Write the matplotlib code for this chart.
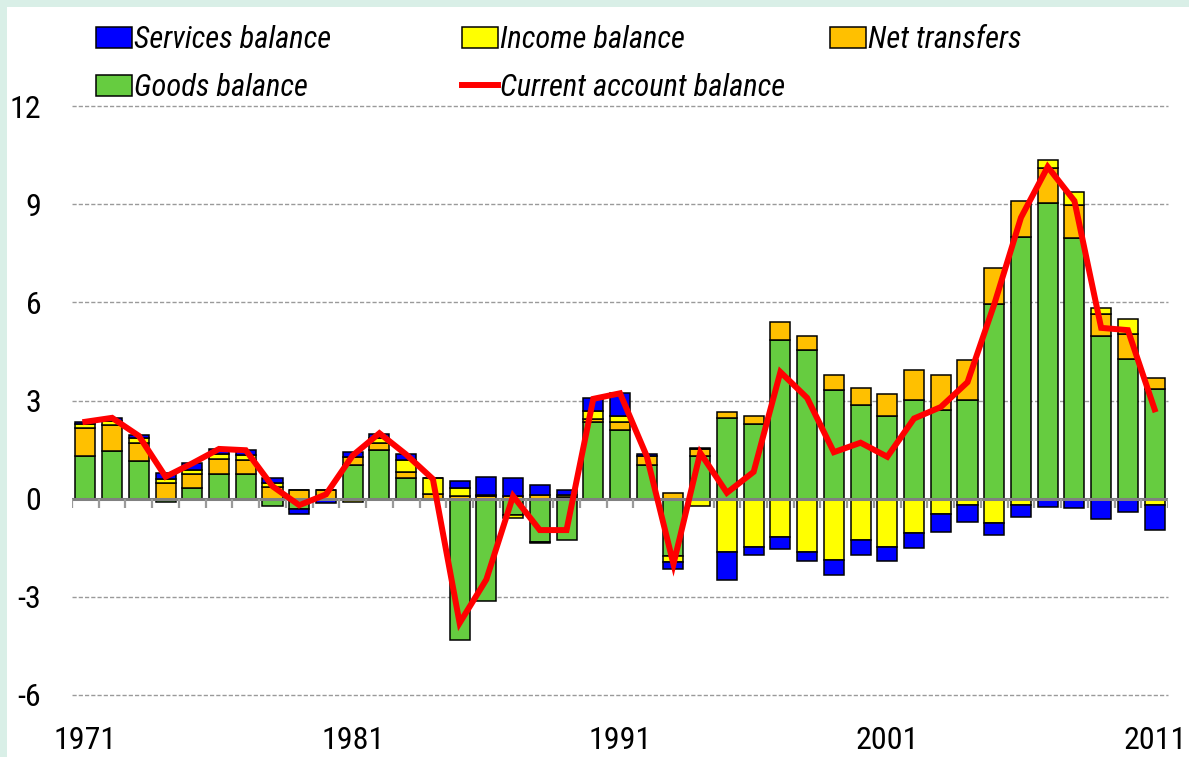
import numpy as np
import matplotlib

matplotlib.use("Agg")
import matplotlib.pyplot as plt
from matplotlib import font_manager
from matplotlib.patches import Patch, Rectangle
from matplotlib.lines import Line2D

# --- data (% of GDP) ---
years = list(range(1971, 2012))
goods = [1.30, 1.45, 1.15, -0.10, 0.33, 0.74, 0.74, -0.21, -0.31, -0.02,
         1.02, 1.48, 0.64, -0.05, -4.31, -3.13, -0.51, -1.33, -1.25, 2.34,
         2.09, 1.02, -1.76, 1.30, 2.45, 2.27, 4.85, 4.54, 3.31, 2.85,
         2.52, 3.03, 2.70, 3.03, 5.94, 8.00, 9.03, 7.98, 4.97, 4.26, 3.34]
transfers = [0.87, 0.80, 0.56, 0.48, 0.43, 0.48, 0.44, 0.35, 0.25, 0.25,
             0.26, 0.21, 0.17, 0.15, 0.08, 0.08, 0.07, 0.10, 0.05, 0.08,
             0.26, 0.28, 0.18, 0.22, 0.20, 0.27, 0.55, 0.43, 0.47, 0.54,
             0.67, 0.90, 1.08, 1.20, 1.12, 1.10, 1.09, 1.00, 0.68, 0.76, 0.35]
income = [0.10, 0.13, 0.13, 0.11, 0.13, 0.15, 0.15, 0.13, 0.00, 0.00,
          -0.10, 0.17, 0.37, 0.49, 0.25, 0.02, -0.07, -0.03, 0.05, 0.26,
          0.19, -0.05, -0.18, -0.21, -1.64, -1.48, -1.17, -1.64, -1.86, -1.25,
          -1.48, -1.06, -0.46, -0.20, -0.74, -0.20, 0.22, 0.39, 0.17, 0.48, -0.20]
services = [0.08, 0.07, 0.12, 0.18, 0.19, 0.16, 0.17, 0.16, -0.17, -0.10,
            0.14, 0.13, 0.20, 0.00, 0.21, 0.56, 0.57, 0.31, 0.16, 0.40,
            0.70, 0.05, -0.21, 0.04, -0.85, -0.25, -0.36, -0.27, -0.48, -0.48,
            -0.43, -0.46, -0.56, -0.51, -0.38, -0.36, -0.25, -0.28, -0.61, -0.40, -0.77]
current_account = [2.35, 2.47, 1.92, 0.67, 1.08, 1.52, 1.48, 0.38, -0.20, 0.13,
                   1.32, 2.00, 1.35, 0.60, -3.80, -2.47, 0.08, -0.96, -0.96, 3.05,
                   3.22, 1.30, -2.00, 1.40, 0.18, 0.82, 3.87, 3.08, 1.42, 1.71,
                   1.28, 2.45, 2.80, 3.56, 5.94, 8.59, 10.14, 9.10, 5.22, 5.15, 2.73]

y_ticks = [12, 9, 6, 3, 0, -3, -6]
x_labels = [1971, 1981, 1991, 2001, 2011]


def pick_font(names):
    for name in names:
        try:
            font_manager.findfont(name, fallback_to_default=False)
            return name
        except ValueError:
            continue
    return "DejaVu Sans"


FONT = pick_font(["Liberation Sans Narrow", "Roboto Condensed", "Liberation Sans"])
plt.rcParams["font.family"] = [FONT, "DejaVu Sans"]

GREEN = "#66CC40"
ORANGE = "#FFC000"
YELLOW = "#FFFF00"
BLUE = "#0000FF"
RED = "#FF0000"
MINT = "#D9EFE7"

fig = plt.figure(figsize=(11.89, 7.57), dpi=100)
fig.patch.set_facecolor("white")
# mint frame strips along top and left edge
fig.patches.append(Rectangle((0, 1 - 7 / 757), 1, 7 / 757, transform=fig.transFigure,
                             facecolor=MINT, edgecolor="none"))
fig.patches.append(Rectangle((0, 0), 7 / 1189, 1, transform=fig.transFigure,
                             facecolor=MINT, edgecolor="none"))

ax = fig.add_axes([72 / 1189, 1 - 695 / 757, (1168 - 72) / 1189, (695 - 106) / 757])

x = np.array(years, dtype=float)
pos_bottom = np.zeros(len(years))
neg_bottom = np.zeros(len(years))
stack = [(goods, GREEN), (transfers, ORANGE), (income, YELLOW), (services, BLUE)]
for values, color in stack:
    v = np.array(values)
    base = np.where(v >= 0, pos_bottom, neg_bottom)
    ax.bar(x, v, bottom=base, width=0.75, color=color, edgecolor="black",
           linewidth=1.1, zorder=3)
    pos_bottom = pos_bottom + np.where(v > 0, v, 0)
    neg_bottom = neg_bottom + np.where(v < 0, v, 0)

# zero axis with small ticks between categories
ax.axhline(0, color="#808080", linewidth=2.2, zorder=4)
edges = np.arange(years[0] - 0.5, years[-1] + 1.0, 1.0)
ax.vlines(edges, -0.3, 0, color="#9a9a9a", linewidth=1.6, zorder=4)

ax.plot(x, current_account, color=RED, linewidth=4.3, zorder=5,
        solid_joinstyle="miter")

ax.set_xlim(years[0] - 0.5, years[-1] + 0.5)
ax.set_ylim(-6, 12)
for yv in y_ticks:
    if yv != 0:
        ax.axhline(yv, color="#9a9a9a", linewidth=1.0, linestyle=(0, (3, 1.5)),
                   zorder=1, clip_on=False)

ax.set_yticks(y_ticks)
ax.set_yticklabels([str(t) for t in y_ticks])
ax.tick_params(axis="y", length=0, pad=22, labelsize=23)
ax.set_xticks(x_labels)
ax.set_xticklabels([str(t) for t in x_labels])
ax.tick_params(axis="x", length=0, pad=22, labelsize=23)
for s in ax.spines.values():
    s.set_visible(False)

# legend: three fixed columns like the original
leg_kw = dict(frameon=False, prop={"style": "italic", "size": 22},
              handlelength=1.18, handleheight=0.68, handletextpad=0.08,
              borderpad=0, borderaxespad=0, labelspacing=0.62, loc="upper left")


def box(color):
    return Patch(facecolor=color, edgecolor="black", linewidth=1.1)


top = 1 - 25 / 757
fig.legend([box(BLUE), box(GREEN)], ["Services balance", "Goods balance"],
           bbox_to_anchor=(96 / 1189, top), **leg_kw)
fig.legend([box(YELLOW), Line2D([], [], color=RED, linewidth=4.3)],
           ["Income balance", "Current account balance"],
           bbox_to_anchor=(462 / 1189, top), **leg_kw)
fig.legend([box(ORANGE)], ["Net transfers"],
           bbox_to_anchor=(830 / 1189, top), **leg_kw)

fig.savefig("out.png", dpi=100)
plt.close(fig)
